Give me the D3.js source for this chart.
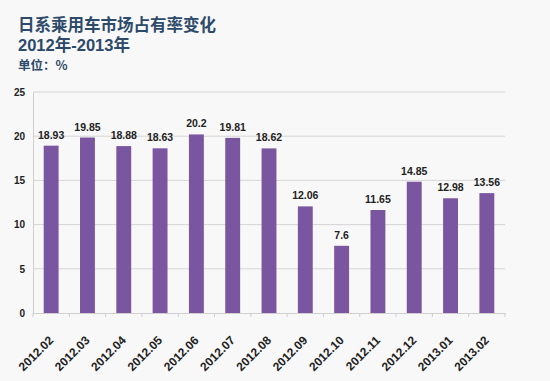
<!DOCTYPE html>
<html>
<head>
<meta charset="utf-8">
<script src="https://cdn.jsdelivr.net/npm/d3@7"></script>
<style>
  body { margin: 0; background: #f8f8f8; }
  svg { display: block; font-family: "Noto Sans CJK SC", "Liberation Sans", sans-serif; }
</style>
</head>
<body>
<svg id="chart" width="550" height="381"></svg>
<script>
// data
const months = ['2012.02', '2012.03', '2012.04', '2012.05', '2012.06', '2012.07', '2012.08',
  '2012.09', '2012.10', '2012.11', '2012.12', '2013.01', '2013.02'];
const share = [18.93, 19.85, 18.88, 18.63, 20.2, 19.81, 18.62, 12.06, 7.6, 11.65, 14.85, 12.98, 13.56];
const yTicks = [0, 5, 10, 15, 20, 25];

const data = months.map((m, i) => ({ month: m, value: share[i] }));

const svg = d3.select('#chart');
const MARGIN = { top: 92, right: 45, bottom: 68, left: 33 };
const W = 550 - MARGIN.left - MARGIN.right;
const H = 381 - MARGIN.top - MARGIN.bottom;

// titles
const title = svg.append('g').attr('fill', '#2d4a6a').attr('font-weight', 'bold');
title.append('text').attr('x', 18).attr('y', 30.5).attr('font-size', 16.5).text('日系乘用车市场占有率变化');
title.append('text').attr('x', 18).attr('y', 50.5).attr('font-size', 16.5)
  .attr('font-family', 'Liberation Sans, Noto Sans CJK SC, sans-serif').text('2012年-2013年');
title.append('text').attr('x', 18).attr('y', 70).attr('font-size', 12.5).text('单位：%');

const g = svg.append('g').attr('transform', `translate(${MARGIN.left},${MARGIN.top})`);

const x = d3.scaleBand().domain(months).range([0, W]).paddingInner(0.59).paddingOuter(0.295);
const y = d3.scaleLinear().domain([0, 25]).range([H, 0]);

// grid
g.append('g')
  .selectAll('line')
  .data(yTicks.filter(d => d > 0))
  .join('line')
  .attr('x1', 0).attr('x2', W)
  .attr('y1', d => y(d)).attr('y2', d => y(d))
  .attr('stroke', '#d6d6d6');

// y axis
const yAxis = g.append('g')
  .call(d3.axisLeft(y).tickValues(yTicks).tickSize(0).tickPadding(8));
yAxis.select('.domain').attr('stroke', '#cfcfcf');
yAxis.selectAll('text').attr('font-size', 10).attr('font-weight', 'bold').attr('fill', '#222')
  .attr('font-family', 'Liberation Sans, sans-serif');

// bars
g.append('g')
  .selectAll('rect')
  .data(data)
  .join('rect')
  .attr('x', d => x(d.month))
  .attr('y', d => y(d.value))
  .attr('width', x.bandwidth())
  .attr('height', d => H - y(d.value))
  .attr('fill', '#7a55a0');

// value labels
g.append('g')
  .selectAll('text')
  .data(data)
  .join('text')
  .attr('x', d => x(d.month) + x.bandwidth() / 2)
  .attr('y', d => y(d.value) - 7)
  .attr('text-anchor', 'middle')
  .attr('font-size', 10.5)
  .attr('font-weight', 'bold')
  .attr('fill', '#222')
  .attr('font-family', 'Liberation Sans, sans-serif')
  .text(d => d.value);

// x axis
const xAxis = g.append('g').attr('transform', `translate(0,${H})`)
  .call(d3.axisBottom(x).tickSize(0).tickSizeOuter(0));
xAxis.select('.domain').attr('stroke', '#cfcfcf');
// ticks between categories
xAxis.selectAll('.sep')
  .data(d3.range(months.length + 1))
  .join('line')
  .attr('class', 'sep')
  .attr('x1', i => i * W / months.length).attr('x2', i => i * W / months.length)
  .attr('y1', 0).attr('y2', 4)
  .attr('stroke', '#cfcfcf');
xAxis.selectAll('.tick text')
  .attr('font-size', 12)
  .attr('font-weight', 'bold')
  .attr('fill', '#222')
  .attr('font-family', 'Liberation Sans, sans-serif')
  .attr('text-anchor', 'end')
  .attr('y', 0)
  .attr('dy', 0)
  .attr('transform', 'translate(3,28) rotate(-45)');
</script>
</body>
</html>
